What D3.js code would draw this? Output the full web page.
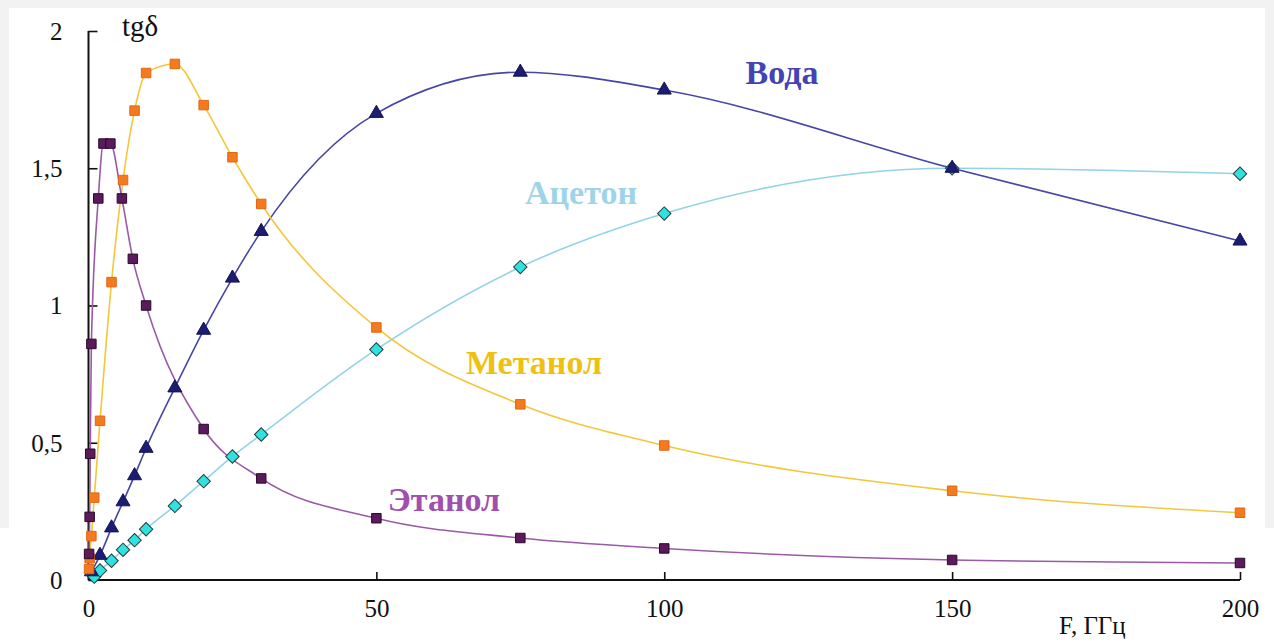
<!DOCTYPE html>
<html>
<head>
<meta charset="utf-8">
<script src="https://cdn.jsdelivr.net/npm/d3@7"></script>
<style>
  html, body { margin: 0; padding: 0; background: #f2f2f2; }
  svg { display: block; }
  svg text { font-family: "Liberation Serif", "Times New Roman", Times, "DejaVu Serif", "Noto Serif", serif; }
</style>
</head>
<body>
<svg id="chart" width="1274" height="642"></svg>
<script>
// Loss tangent tgδ versus frequency for four liquids
const waterF   = [0.5, 2, 4, 6, 8, 10, 15, 20, 25, 30, 50, 75, 100, 150, 200];
const waterV   = [0.03, 0.09, 0.19, 0.285, 0.38, 0.48, 0.70, 0.91, 1.10, 1.27, 1.70, 1.85, 1.785, 1.50, 1.235];

const acetoneF = [1, 2, 4, 6, 8, 10, 15, 20, 25, 30, 50, 75, 100, 150, 200];
const acetoneV = [0.012, 0.035, 0.07, 0.11, 0.145, 0.185, 0.27, 0.36, 0.45, 0.53, 0.84, 1.14, 1.335, 1.50, 1.48];

const methanolF = [0.1, 0.2, 0.5, 1, 2, 4, 6, 8, 10, 15, 20, 25, 30, 50, 75, 100, 150, 200];
const methanolV = [0.04, 0.08, 0.16, 0.30, 0.58, 1.085, 1.457, 1.71, 1.847, 1.88, 1.73, 1.54, 1.37, 0.92, 0.64, 0.49, 0.325, 0.245];

const ethanolF = [0.1, 0.2, 0.3, 0.5, 1.7, 2.6, 3.8, 5.8, 7.7, 10, 20, 30, 50, 75, 100, 150, 200];
const ethanolV = [0.095, 0.23, 0.46, 0.86, 1.39, 1.59, 1.59, 1.39, 1.17, 1.0, 0.55, 0.37, 0.225, 0.153, 0.115, 0.073, 0.062];

const xTicks = [0, 50, 100, 150, 200];
const yTicks = [0, 0.5, 1, 1.5, 2];

const series = [
  { name: "Вода",    F: waterF,    V: waterV,    line: "#4646a6", fill: "#1c1c72", stroke: "#141450", shape: "triangle", label: "#4343b3", lx: 782, ly: 84 },
  { name: "Ацетон",  F: acetoneF,  V: acetoneV,  line: "#92d3e6", fill: "#2fe2e2", stroke: "#2a3a3a", shape: "diamond",  label: "#9ed4e8", lx: 581, ly: 204 },
  { name: "Метанол", F: methanolF, V: methanolV, line: "#f3c73a", fill: "#f47a1e", stroke: "#e0661a", shape: "square",   label: "#f0c010", lx: 534, ly: 374 },
  { name: "Этанол",  F: ethanolF,  V: ethanolV,  line: "#9a5aa6", fill: "#5a1a5c", stroke: "#2a0a2a", shape: "square",   label: "#a04fae", lx: 444, ly: 511 }
];

const svg = d3.select("#chart");

// page panels
svg.append("rect").attr("x", 0).attr("y", 0).attr("width", 1274).attr("height", 642).attr("fill", "#f2f2f2");
svg.append("rect").attr("x", 9).attr("y", 8).attr("width", 1256).attr("height", 634).attr("fill", "#ffffff");
svg.append("rect").attr("x", 0).attr("y", 528).attr("width", 1274).attr("height", 114).attr("fill", "#ffffff");

const x = d3.scaleLinear().domain([0, 200]).range([88.5, 1240]);
const y = d3.scaleLinear().domain([0, 2]).range([580, 31]);

// axes (ticks pointing inward)
const xAxis = d3.axisBottom(x).tickValues(xTicks).tickSize(-8).tickFormat(d3.format("d")).tickPadding(14);
const yAxis = d3.axisLeft(y).tickValues(yTicks).tickSize(-9)
  .tickFormat(d => String(d).replace(".", ",")).tickPadding(26);

const gx = svg.append("g").attr("transform", `translate(0,${y(0)})`).call(xAxis);
const gy = svg.append("g").attr("transform", `translate(${x(0)},0)`).call(yAxis);

[gx, gy].forEach(g => {
  g.attr("font-family", null).attr("font-size", null);
  g.select(".domain").attr("stroke", "#111").attr("stroke-width", 2);
  g.selectAll(".tick line").attr("stroke", "#111").attr("stroke-width", 1.6);
  g.selectAll(".tick text").attr("fill", "#111").style("font-size", "25px");
});
gx.selectAll(".tick text").attr("dy", "0.9em");
gy.selectAll(".tick text").attr("dy", "0.33em");
gx.select(".domain").attr("d", `M${x(0)},0H${x(200)}`);
gy.select(".domain").attr("d", `M0,${y(2)}V${y(0)}`);

// axis titles
svg.append("text").attr("x", 122).attr("y", 36)
  .style("font-size", "29px").attr("fill", "#111").text("tgδ");
svg.append("text").attr("x", 1059).attr("y", 634)
  .style("font-size", "25px").attr("fill", "#111").text("F, ГГц");

// smooth curves
const line = d3.line().x(d => x(d[0])).y(d => y(d[1])).curve(d3.curveMonotoneX);

series.forEach(s => {
  const pts = s.F.map((f, i) => [f, s.V[i]]);
  svg.append("path").datum(pts).attr("d", line)
    .attr("fill", "none").attr("stroke", s.line).attr("stroke-width", 1.6);
});

// markers
const sym = {
  square: { path: d3.symbol().type(d3.symbolSquare).size(90), rot: 0 },
  triangle: { path: d3.symbol().type(d3.symbolTriangle).size(85), rot: 0 },
  diamond: { path: d3.symbol().type(d3.symbolSquare).size(90), rot: 45 }
};
[series[1], series[0], series[2], series[3]].forEach(s => {
  const m = sym[s.shape];
  svg.append("g").selectAll("path").data(s.F.map((f, i) => [f, s.V[i]])).join("path")
    .attr("transform", d => `translate(${x(d[0])},${y(d[1])}) rotate(${m.rot})`)
    .attr("d", m.path)
    .attr("fill", s.fill).attr("stroke", s.stroke).attr("stroke-width", 1);
});

// series labels
series.forEach(s => {
  svg.append("text").attr("x", s.lx).attr("y", s.ly).attr("text-anchor", "middle")
    .style("font-size", "34px").style("font-weight", "bold")
    .attr("fill", s.label).text(s.name);
});
</script>
</body>
</html>
